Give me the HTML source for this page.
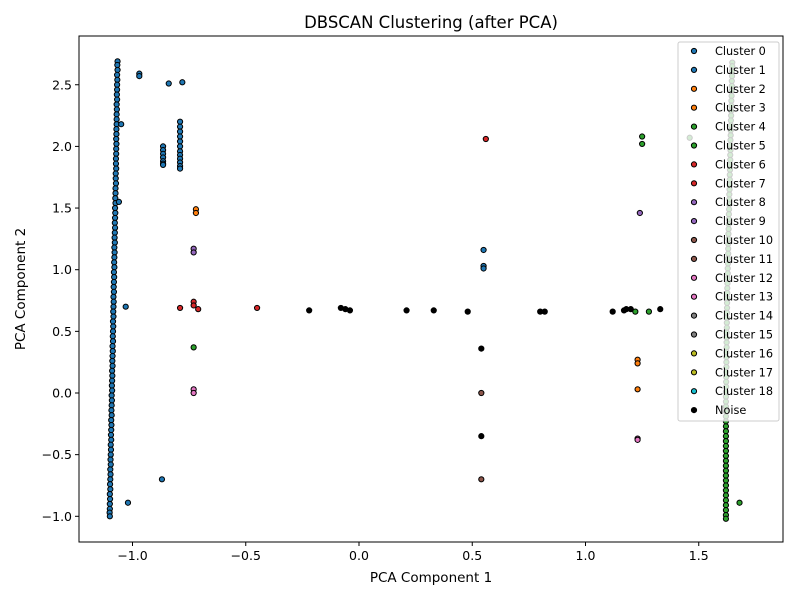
<!DOCTYPE html>
<html><head><meta charset="utf-8">
<style>
body{margin:0;background:#fff;}
svg text{font-family:"DejaVu Sans","Liberation Sans",sans-serif;fill:#000;}
</style></head>
<body>
<svg id="chart" width="800" height="600" xmlns="http://www.w3.org/2000/svg">
<rect x="0" y="0" width="800" height="600" fill="#fff"/>
<text x="431" y="28" font-size="16.5" text-anchor="middle">DBSCAN Clustering (after PCA)</text>
<g id="marks"></g>
<rect x="79" y="36" width="704" height="506" fill="none" stroke="#000" stroke-width="1"/>
<g id="axes"></g>
<text x="431" y="582" font-size="13.5" text-anchor="middle">PCA Component 1</text>
<text x="25" y="289" font-size="13.5" text-anchor="middle" transform="rotate(-90 25 289)">PCA Component 2</text>
<g id="legend"></g>
</svg>
<script>
const xTicks=[-1.0,-0.5,0.0,0.5,1.0,1.5];
const yTicks=[-1.0,-0.5,0.0,0.5,1.0,1.5,2.0,2.5];
const clusterNames=["Cluster 0","Cluster 1","Cluster 2","Cluster 3","Cluster 4","Cluster 5","Cluster 6","Cluster 7","Cluster 8","Cluster 9","Cluster 10","Cluster 11","Cluster 12","Cluster 13","Cluster 14","Cluster 15","Cluster 16","Cluster 17","Cluster 18","Noise"];
const clusterColors=["#1f77b4","#1f77b4","#ff7f0e","#ff7f0e","#2ca02c","#2ca02c","#d62728","#d62728","#9467bd","#9467bd","#8c564b","#8c564b","#e377c2","#e377c2","#7f7f7f","#7f7f7f","#bcbd22","#bcbd22","#17becf","#000000"];
// left column (cluster 0)
const col0Y=[2.69,2.66,2.62,2.58,2.54,2.5,2.46,2.42,2.38,2.34,2.3,2.26,2.22,2.18,2.14,2.1,2.06,2.02,1.98,1.94,1.9,1.86,1.82,1.78,1.74,1.7,1.66,1.62,1.58,1.54,1.5,1.46,1.42,1.38,1.34,1.3,1.26,1.22,1.18,1.14,1.1,1.06,1.02,0.98,0.94,0.9,0.86,0.82,0.78,0.74,0.7,0.66,0.62,0.58,0.54,0.5,0.46,0.42,0.38,0.34,0.3,0.26,0.22,0.18,0.14,0.1,0.06,0.02,-0.02,-0.06,-0.1,-0.14,-0.18,-0.22,-0.26,-0.3,-0.34,-0.38,-0.42,-0.46,-0.5,-0.54,-0.58,-0.62,-0.66,-0.7,-0.74,-0.78,-0.82,-0.86,-0.9,-0.94,-0.97,-1.0];
const col0X=[-1.066,-1.067,-1.066,-1.068,-1.067,-1.068,-1.068,-1.069,-1.068,-1.07,-1.069,-1.07,-1.07,-1.07,-1.071,-1.071,-1.072,-1.071,-1.072,-1.072,-1.073,-1.073,-1.072,-1.074,-1.074,-1.073,-1.075,-1.075,-1.076,-1.075,-1.077,-1.076,-1.077,-1.078,-1.077,-1.078,-1.079,-1.078,-1.08,-1.079,-1.08,-1.081,-1.08,-1.082,-1.081,-1.082,-1.083,-1.082,-1.084,-1.083,-1.084,-1.085,-1.084,-1.086,-1.085,-1.086,-1.087,-1.086,-1.088,-1.087,-1.088,-1.089,-1.088,-1.09,-1.089,-1.09,-1.091,-1.09,-1.092,-1.091,-1.092,-1.093,-1.092,-1.094,-1.093,-1.094,-1.095,-1.094,-1.096,-1.095,-1.096,-1.097,-1.096,-1.098,-1.097,-1.098,-1.099,-1.098,-1.1,-1.099,-1.1,-1.1,-1.101,-1.1];
// right column (cluster 5)
const col5Y=[2.68,2.65,2.61,2.57,2.53,2.49,2.45,2.41,2.37,2.33,2.29,2.25,2.21,2.17,2.13,2.09,2.05,2.01,1.97,1.93,1.89,1.85,1.81,1.77,1.73,1.69,1.65,1.61,1.57,1.53,1.49,1.45,1.41,1.37,1.33,1.29,1.25,1.21,1.17,1.13,1.09,1.05,1.01,0.97,0.93,0.89,0.85,0.81,0.77,0.73,0.69,0.65,0.61,0.57,0.53,0.49,0.45,0.41,0.37,0.33,0.29,0.25,0.21,0.17,0.13,0.09,0.05,0.01,-0.03,-0.07,-0.11,-0.15,-0.19,-0.23,-0.27,-0.31,-0.35,-0.39,-0.43,-0.47,-0.51,-0.55,-0.59,-0.63,-0.67,-0.71,-0.75,-0.79,-0.83,-0.87,-0.91,-0.95,-0.99,-1.02];
const col5X=[1.648,1.648,1.647,1.647,1.646,1.646,1.645,1.645,1.644,1.644,1.643,1.643,1.642,1.642,1.641,1.641,1.64,1.64,1.64,1.639,1.639,1.638,1.638,1.637,1.637,1.636,1.636,1.635,1.635,1.634,1.634,1.633,1.633,1.632,1.632,1.631,1.631,1.63,1.63,1.63,1.629,1.629,1.628,1.628,1.627,1.627,1.626,1.626,1.626,1.625,1.625,1.625,1.624,1.624,1.624,1.623,1.623,1.623,1.623,1.622,1.622,1.622,1.622,1.621,1.621,1.621,1.621,1.62,1.62,1.62,1.62,1.62,1.62,1.62,1.62,1.62,1.62,1.62,1.62,1.62,1.62,1.62,1.62,1.62,1.62,1.62,1.62,1.62,1.62,1.62,1.62,1.62,1.62,1.62];
// other points: x, y, cluster index
const ptX=[-0.97,-0.97,-0.84,-0.78,-0.865,-0.865,-0.865,-0.865,-0.865,-0.865,-0.865,-0.79,-0.79,-0.79,-0.79,-0.79,-0.79,-0.79,-0.79,-0.79,-0.79,-0.79,-0.79,-1.03,-0.87,-1.02,-1.06,-1.05,
 -0.72,-0.72,-0.73,-0.73,-0.79,-0.73,-0.73,-0.71,-0.45,-0.73,-0.73,-0.73,
 0.56,0.55,0.55,0.55,0.54,0.54,0.54,0.54,
 1.25,1.25,1.24,1.23,1.23,1.23,1.23,1.23,1.46,1.68,
 -0.22,-0.08,-0.06,-0.04,0.21,0.33,0.48,0.8,0.82,1.12,1.17,1.18,1.2,1.33,1.22,1.28];
const ptY=[2.59,2.57,2.51,2.52,2.0,1.97,1.94,1.91,1.88,1.86,1.85,2.2,2.16,2.12,2.08,2.04,2.0,1.96,1.93,1.9,1.87,1.84,1.82,0.70,-0.70,-0.89,1.55,2.18,
 1.49,1.46,1.17,1.14,0.69,0.74,0.71,0.68,0.69,0.37,0.03,0.0,
 2.06,1.16,1.03,1.01,0.36,0.0,-0.35,-0.70,
 2.08,2.02,1.46,0.27,0.24,0.03,-0.37,-0.38,2.07,-0.89,
 0.67,0.69,0.68,0.67,0.67,0.67,0.66,0.66,0.66,0.66,0.67,0.68,0.68,0.68,0.66,0.66];
const ptC=[1,1,1,1,1,1,1,1,1,1,1,1,1,1,1,1,1,1,1,1,1,1,1,1,1,1,1,1,
 2,2,8,8,6,6,6,6,6,4,12,12,
 6,1,1,1,19,10,19,10,
 4,4,8,2,2,2,12,12,5,4,
 19,19,19,19,19,19,19,19,19,19,19,19,19,19,4,4];

const X0=79,X1=783,Y0=36,Y1=542;
const xs=v=>359+(v-0)*226.5;
const ys=v=>393-(v-0)*123.3;
const NS="http://www.w3.org/2000/svg";
function mk(tag,attrs,parent){const e=document.createElementNS(NS,tag);for(const k in attrs)e.setAttribute(k,attrs[k]);parent.appendChild(e);return e;}
const marks=document.getElementById('marks');
function dot(x,y,c,name){
  const e=mk('circle',{cx:xs(x),cy:ys(y),r:2.6,fill:clusterColors[c],stroke:'#000','stroke-width':1},marks);
  
  
}
for(let i=0;i<col0Y.length;i++){dot(col0X[i],col0Y[i],0,'cluster-0-point');}
for(let i=0;i<col5Y.length;i++){dot(col5X[i],col5Y[i],5,'cluster-5-point');}
for(let i=0;i<ptX.length;i++){dot(ptX[i],ptY[i],ptC[i],ptC[i]===19?'noise-point':'cluster-'+ptC[i]+'-point');}

const axes=document.getElementById('axes');
xTicks.forEach(t=>{
  const x=xs(t);
  const l=mk('line',{x1:x,x2:x,y1:Y1,y2:Y1+4,stroke:'#000'},axes);
  
  
  const tx=mk('text',{x:x,y:Y1+18,'font-size':12.5,'text-anchor':'middle'},axes);
  tx.textContent=(t<0?'\u2212':'')+Math.abs(t).toFixed(1);
  
  
});
yTicks.forEach(t=>{
  const y=ys(t);
  const l=mk('line',{x1:X0-4,x2:X0,y1:y,y2:y,stroke:'#000'},axes);
  
  
  const tx=mk('text',{x:X0-7,y:y+4.5,'font-size':12.5,'text-anchor':'end'},axes);
  tx.textContent=(t<0?'\u2212':'')+Math.abs(t).toFixed(1);
  
  
});

const lg=document.getElementById('legend');
const box=mk('rect',{x:678,y:42,width:101,height:379,rx:2,fill:'#fff','fill-opacity':0.8,stroke:'#ccc'},lg);


clusterNames.forEach((n,i)=>{
  const y=51+i*18.9;
  const c=mk('circle',{cx:694,cy:y,r:2.6,fill:clusterColors[i],stroke:'#000','stroke-width':1},lg);
  
  
  const t=mk('text',{x:715,y:y+4,'font-size':11.3},lg);
  t.textContent=n;
  
  
});
</script>
</body></html>
